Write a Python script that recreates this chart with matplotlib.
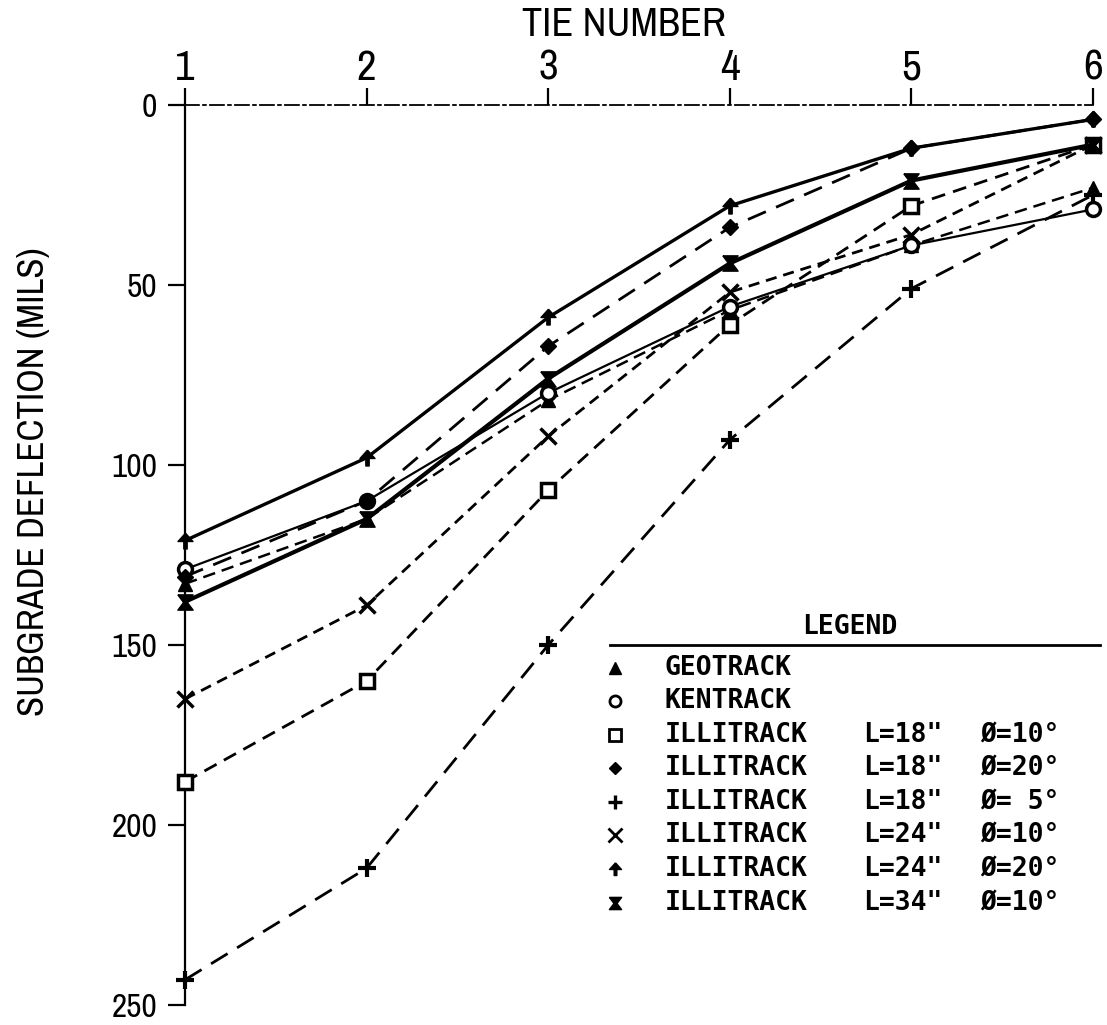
import matplotlib
matplotlib.use("Agg")
import matplotlib.pyplot as plt
from matplotlib import font_manager as fm
from matplotlib.lines import Line2D

# ---------------- data ----------------
ties = [1, 2, 3, 4, 5, 6]
geotrack = [133, 115, 82, 57, 39, 23]
kentrack = [129, 110, 80, 56, 39, 29]
illi_18_10 = [188, 160, 107, 61, 28, 11]
illi_18_20 = [131, 110, 67, 34, 12, 4]
illi_18_05 = [243, 212, 150, 93, 51, 25]
illi_24_10 = [165, 139, 92, 52, 36, 11]
illi_24_20 = [121, 98, 59, 28, 12, 4]
illi_34_10 = [138, 115, 76, 44, 21, 11]

y_ticks = [0, 50, 100, 150, 200, 250]
series_names = ["GEOTRACK", "KENTRACK", "ILLITRACK", "ILLITRACK", "ILLITRACK",
                "ILLITRACK", "ILLITRACK", "ILLITRACK"]
series_L = ["", "", 'L=18"', 'L=18"', 'L=18"', 'L=24"', 'L=24"', 'L=34"']
series_theta = ["", "", "Ø=10°", "Ø=20°", "Ø= 5°", "Ø=10°", "Ø=20°", "Ø=10°"]
series_values = [geotrack, kentrack, illi_18_10, illi_18_20, illi_18_05,
                 illi_24_10, illi_24_20, illi_34_10]

# ---------------- fonts ----------------
plt.rcParams["lines.scale_dashes"] = False
pref = []
for f in fm.fontManager.ttflist:
    nm = f.name.lower()
    st = str(f.stretch).lower()
    if f.style != "normal":
        continue
    if not (f.weight in (400, "normal", "regular")):
        continue
    score = None
    if "narrow" in nm:
        score = 0
    elif "condensed" in nm or st in ("condensed", "semi-condensed", "extra-condensed"):
        score = 1
    if score is not None:
        pref.append((score, f.fname))
pref.sort()
if pref:
    narrow_fp = fm.FontProperties(fname=pref[0][1])
    scale_n = 1.0
else:
    narrow_fp = fm.FontProperties(family="DejaVu Sans")
    scale_n = 0.8
mono_fp = fm.FontProperties(family="DejaVu Sans Mono", weight="bold")

def fp(base, size):
    p = base.copy()
    p.set_size(size)
    return p

# ---------------- markers ----------------
arrow_marker = [(0, 1), (0.9, 0), (0.2, 0), (0.2, -0.9), (-0.2, -0.9), (-0.2, 0), (-0.9, 0), (0, 1)]
bowtie_marker = [(-1, 1), (1, 1), (0.25, 0), (1, -1), (-1, -1), (-0.25, 0), (-1, 1)]

styles = [
    dict(marker="^", ms=10, mfc="black", mec="black", ls=(0, (9, 5)), lw=1.8),
    dict(marker="o", ms=10, mfc="white", mec="black", mew=2.5, ls="-", lw=1.6),
    dict(marker="s", ms=10, mfc="white", mec="black", mew=2.5, ls=(0, (10, 6)), lw=2.0),
    dict(marker="D", ms=8, mfc="black", mec="black", ls=(0, (14, 8)), lw=2.0),
    dict(marker="+", ms=13, mew=3, mec="black", ls=(0, (14, 8)), lw=2.0),
    dict(marker="x", ms=12, mew=2.5, mec="black", ls=(0, (8, 5)), lw=2.0),
    dict(marker=arrow_marker, ms=12, mfc="black", mec="black", ls="-", lw=2.4),
    dict(marker=bowtie_marker, ms=11, mfc="black", mec="black", ls="-", lw=3.0),
]

# ---------------- figure ----------------
W, H = 1107, 1025
fig = plt.figure(figsize=(W / 100, H / 100), dpi=100)
ax = fig.add_axes([185 / W, 1 - 1005 / H, (1093 - 185) / W, (1005 - 105) / H])
ax.set_xlim(1, 6)
ax.set_ylim(250, 0)

for vals, st in zip(series_values, styles):
    ax.plot(ties, vals, color="black", clip_on=False, zorder=3, **st)

ax.xaxis.tick_top()
ax.xaxis.set_label_position("top")
ax.set_xticks(ties)
ax.set_xticklabels([str(t) for t in ties], fontproperties=fp(narrow_fp, 31 * scale_n))
ax.set_yticks(y_ticks)
ax.set_yticklabels([str(v) for v in y_ticks], fontproperties=fp(narrow_fp, 24 * scale_n))
ax.tick_params(axis="x", direction="out", length=12, width=1.6, pad=1, colors="black")
ax.tick_params(axis="y", direction="out", length=12, width=1.6, pad=8, colors="black")
for s in ("right", "bottom"):
    ax.spines[s].set_visible(False)
ax.spines["left"].set_linewidth(1.6)
ax.spines["top"].set_linewidth(1.3)
ax.spines["top"].set_linestyle((0, (10, 3, 2, 3)))

fig.text(624 / W, 1 - 25 / H, "TIE NUMBER", ha="center", va="center",
         fontproperties=fp(narrow_fp, 29 * scale_n))
fig.text(34 / W, 1 - 482 / H, "SUBGRADE DEFLECTION (MILS)", ha="center", va="center",
         rotation=90, fontproperties=fp(narrow_fp, 26.5 * scale_n))

# ---------------- legend (drawn manually) ----------------
fig.text(850 / W, 1 - 627 / H, "LEGEND", ha="center", va="center",
         fontproperties=fp(mono_fp, 19))
fig.add_artist(Line2D([610 / W, 1100 / W], [1 - 645 / H, 1 - 645 / H],
                      transform=fig.transFigure, color="black", lw=2))
row_y = [668, 701, 735, 768, 802, 835, 869, 903]
for i, (nm, L, th, st) in enumerate(zip(series_names, series_L, series_theta, styles)):
    yy = 1 - row_y[i] / H
    mk = {k: v for k, v in st.items() if k not in ("ls", "lw")}
    mk["ms"] = mk["ms"] * 0.8
    if "mew" in mk:
        mk["mew"] = mk["mew"] * 0.8
    fig.add_artist(Line2D([615 / W], [yy], transform=fig.transFigure, color="black",
                          ls="none", **mk))
    fig.text(665 / W, yy, nm, ha="left", va="center", fontproperties=fp(mono_fp, 19))
    if L:
        fig.text(863 / W, yy, L, ha="left", va="center", fontproperties=fp(mono_fp, 19))
    if th:
        fig.text(980 / W, yy, th, ha="left", va="center", fontproperties=fp(mono_fp, 19))

fig.savefig("out.png", dpi=100)
